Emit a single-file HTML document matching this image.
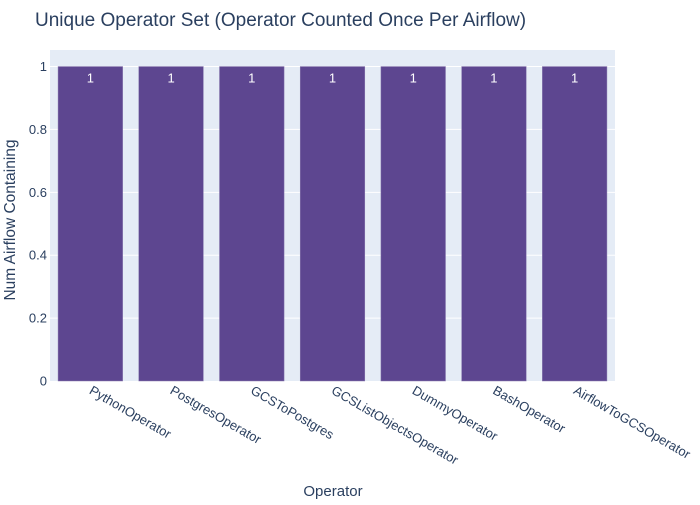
<!DOCTYPE html>
<html><head><meta charset="utf-8"><style>
body{margin:0;background:#fff;font-family:"Liberation Sans",sans-serif}
</style></head><body>
<svg width="700" height="500" id="svg" xmlns="http://www.w3.org/2000/svg">
<text x="35" y="26" font-size="19" fill="#2a3f5f">Unique Operator Set (Operator Counted Once Per Airflow)</text>
<rect x="50" y="50" width="565" height="331" fill="#e5ecf6"/>
<g id="grid"></g><g id="bars"></g><g id="xt"></g><g id="yt"></g>
<text x="333" y="496" font-size="15" fill="#2a3f5f" text-anchor="middle">Operator</text>
<text transform="translate(15,220) rotate(-90)" font-size="15.5" fill="#2a3f5f" text-anchor="middle">Num Airflow Containing</text>
</svg>
<script>
const categories=["PythonOperator","PostgresOperator","GCSToPostgres","GCSListObjectsOperator","DummyOperator","BashOperator","AirflowToGCSOperator"];
const values=[1,1,1,1,1,1,1];
const yTicks=[0,0.2,0.4,0.6,0.8,1];
const yTickLabels=["0","0.2","0.4","0.6","0.8","1"];
const NS="http://www.w3.org/2000/svg";
const L=50,R=615,T=50,B=381,ymax=1.0526;
const y=v=>B-(v/ymax)*(B-T);
const step=(R-L)/categories.length;
const x=i=>L+step*(i+0.5);
function mk(t,a,p){const e=document.createElementNS(NS,t);for(const k in a)e.setAttribute(k,a[k]);document.getElementById(p).appendChild(e);return e;}
yTicks.forEach((v,i)=>{
 if(v>0){const g=mk('line',{x1:L,x2:R,y1:y(v),y2:y(v),stroke:'#fff','stroke-width':1},'grid');
 
 }
 const t=mk('text',{x:L-3,y:y(v)+4.5,'font-size':13,fill:'#2a3f5f','text-anchor':'end'},'yt');
 t.textContent=yTickLabels[i];
 
 
});
categories.forEach((c,i)=>{
 const w=step*0.8,v=values[i];
 const b=mk('rect',{x:x(i)-w/2,y:y(v),width:w,height:B-y(v),fill:'#5d4690',stroke:'#8a7ab0','stroke-width':0.5},'bars');
 
 
 const l=mk('text',{x:x(i),y:y(v)+16,'font-size':13,fill:'#fff','text-anchor':'middle'},'bars');
 l.textContent=String(v);
 
 
 const t=mk('text',{transform:`translate(${x(i)-2},${B+12}) rotate(30)`,'font-size':13,fill:'#2a3f5f','text-anchor':'start'},'xt');
 t.textContent=c;
 
 
});
</script>
</body></html>
